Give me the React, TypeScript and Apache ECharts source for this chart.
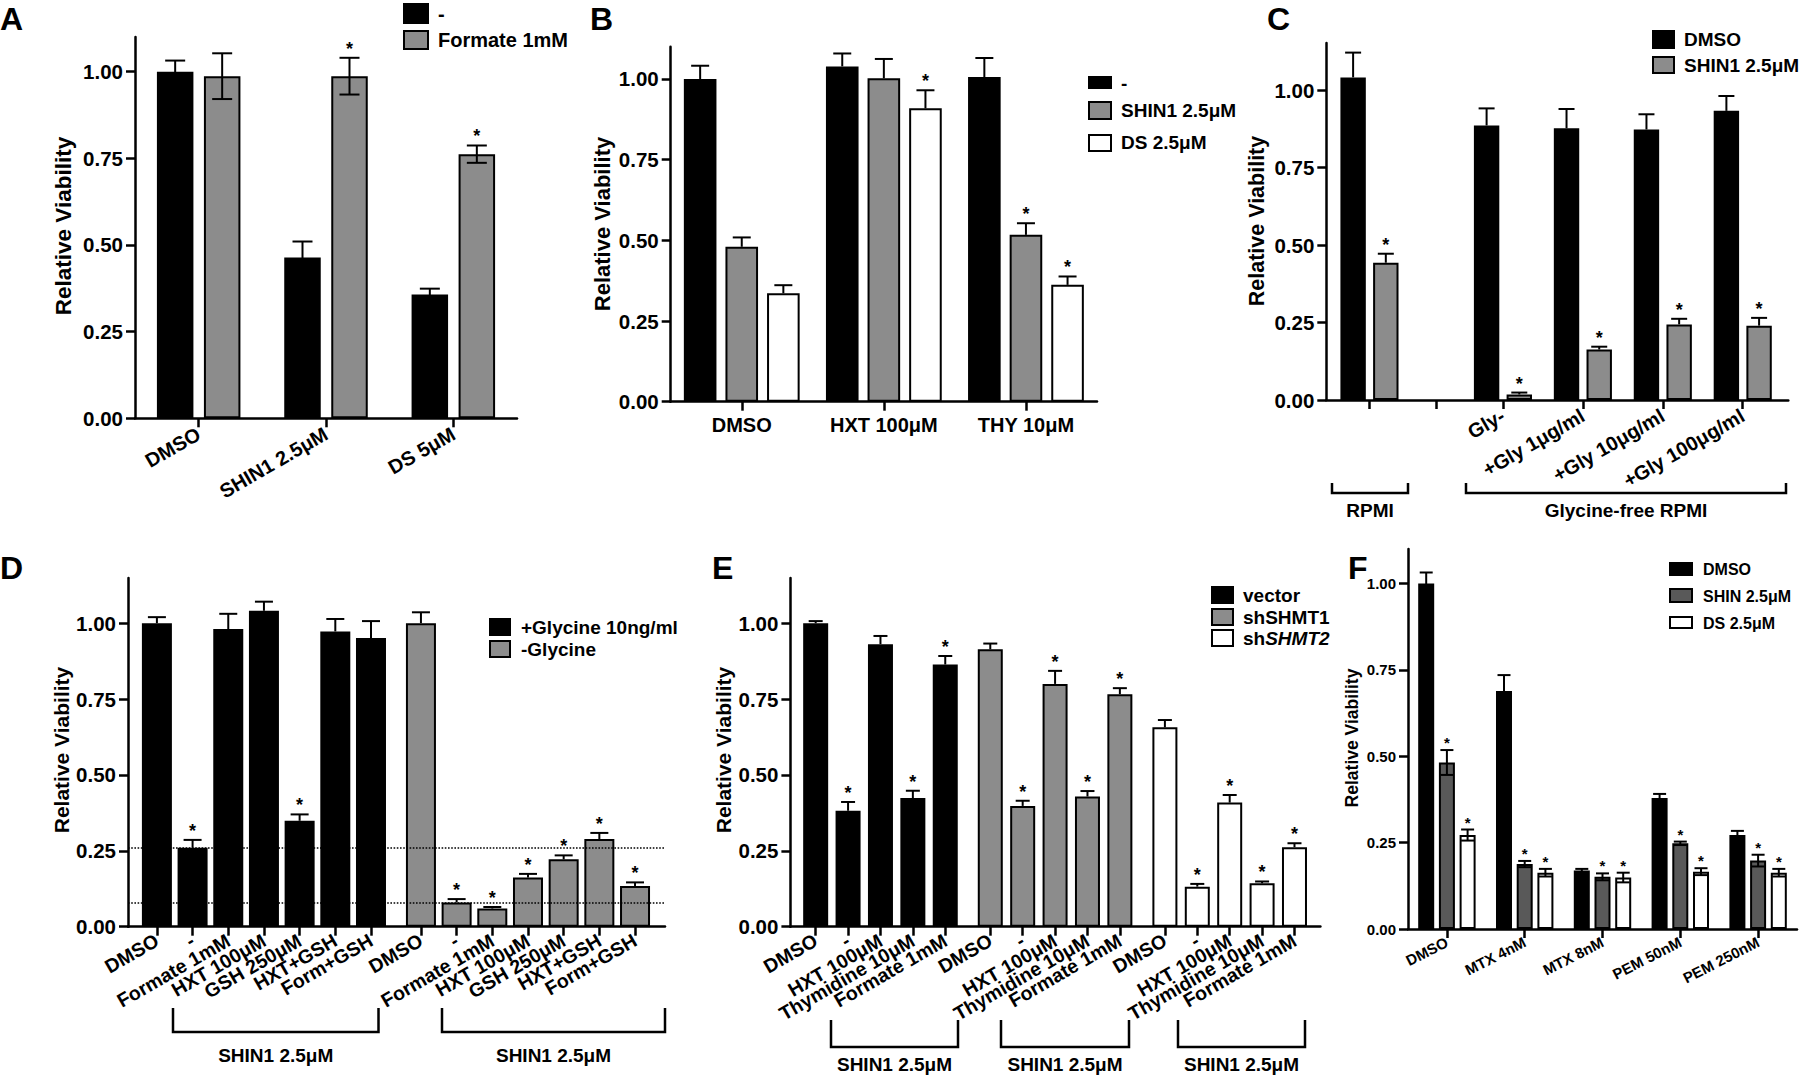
import React, { useEffect, useRef } from 'react';
import * as echarts from 'echarts';

const FONT = '"Liberation Sans", Arial, Helvetica, sans-serif';
const BLACK = '#000000';
const GRAY = '#8c8c8c';
const DARK_GRAY = '#595959';
const WHITE = '#ffffff';

// ---------------- DATA ----------------
const yTicks = [0, 0.25, 0.5, 0.75, 1.0];

// Panel A
const aCategories = ['DMSO', 'SHIN1 2.5μM', 'DS 5μM'];
const aControl = [1.0, 0.464, 0.357];
const aControlErr = [0.032, 0.046, 0.017];
const aFormate = [0.987, 0.987, 0.762];
const aFormateErr = [0.066, 0.053, 0.025];
const aFormateStar = [0, 1, 1];

// Panel B
const bCategories = ['DMSO', 'HXT 100μM', 'THY 10μM'];
const bControl = [1.0, 1.039, 1.006];
const bControlErr = [0.041, 0.04, 0.059];
const bShin = [0.48, 1.002, 0.517];
const bShinErr = [0.029, 0.06, 0.036];
const bShinStar = [0, 0, 1];
const bDs = [0.336, 0.909, 0.362];
const bDsErr = [0.025, 0.056, 0.026];
const bDsStar = [0, 1, 1];

// Panel C
const cTickLabels = ['', '', 'Gly-', '+Gly 1μg/ml', '+Gly 10μg/ml', '+Gly 100μg/ml'];
const cDmso = [1.041, null, 0.886, 0.877, 0.873, 0.933];
const cDmsoErr = [0.08, null, 0.055, 0.062, 0.049, 0.048];
const cShin = [0.443, null, 0.018, 0.163, 0.244, 0.24];
const cShinErr = [0.029, null, 0.006, 0.009, 0.018, 0.025];
const cShinStar = [1, 0, 1, 1, 1, 1];

// Panel D
const dCategories = ['DMSO', '-', 'Formate 1mM', 'HXT 100μM', 'GSH 250μM', 'HXT+GSH', 'Form+GSH',
  'DMSO', '-', 'Formate 1mM', 'HXT 100μM', 'GSH 250μM', 'HXT+GSH', 'Form+GSH'];
const dGlycine = [1.0, 0.26, 0.981, 1.041, 0.349, 0.973, 0.951];
const dGlycineErr = [0.02, 0.026, 0.05, 0.03, 0.021, 0.041, 0.056];
const dGlycineStar = [0, 1, 0, 0, 1, 0, 0];
const dNoGly = [1.0, 0.08, 0.06, 0.162, 0.222, 0.289, 0.134];
const dNoGlyErr = [0.036, 0.011, 0.005, 0.012, 0.013, 0.02, 0.012];
const dNoGlyStar = [0, 1, 1, 1, 1, 1, 1];
const dRefLines = [0.26, 0.08];

// Panel E
const eGroupCategories = ['DMSO', '-', 'HXT 100μM', 'Thymidine 10μM', 'Formate 1mM'];
const eVector = [1.0, 0.382, 0.931, 0.424, 0.864];
const eVectorErr = [0.007, 0.029, 0.027, 0.024, 0.028];
const eVectorStar = [0, 1, 0, 1, 1];
const eSh1 = [0.914, 0.398, 0.8, 0.429, 0.766];
const eSh1Err = [0.019, 0.017, 0.043, 0.018, 0.02];
const eSh1Star = [0, 1, 1, 1, 1];
const eSh2 = [0.657, 0.132, 0.409, 0.143, 0.262];
const eSh2Err = [0.024, 0.009, 0.025, 0.006, 0.013];
const eSh2Star = [0, 1, 1, 1, 1];

// Panel F
const fCategories = ['DMSO', 'MTX 4nM', 'MTX 8nM', 'PEM 50nM', 'PEM 250nM'];
const fDmso = [1.0, 0.689, 0.169, 0.379, 0.272];
const fDmsoErr = [0.032, 0.046, 0.005, 0.012, 0.012];
const fShin = [0.482, 0.188, 0.151, 0.248, 0.198];
const fShinErr = [0.036, 0.009, 0.01, 0.005, 0.017];
const fShinStar = [1, 1, 1, 1, 1];
const fDs = [0.272, 0.163, 0.149, 0.166, 0.163];
const fDsErr = [0.016, 0.011, 0.014, 0.01, 0.011];
const fDsStar = [1, 1, 1, 1, 1];

// ---------------- LAYOUT ----------------
const GRIDS = [
  { left: 135, top: 37, width: 382, height: 381.3 }, // A
  { left: 670.7, top: 46.7, width: 426.3, height: 355 }, // B
  { left: 1326.3, top: 43, width: 462, height: 357 }, // C
  { left: 128, top: 578, width: 537, height: 348.7 }, // D
  { left: 790.4, top: 578, width: 530, height: 348.7 }, // E
  { left: 1408, top: 549, width: 389, height: 380 }, // F
];
const Y_MAX = [1.1, 1.1, 1.152, 1.149, 1.149, 1.1];

const cPos = (i: number) => (i <= 2 ? i * 0.835 : 1.67 + (i - 2));
const dPos = (i: number) => i + Math.floor(i / 7) * 0.4;
const ePos = (i: number) => i + Math.floor(i / 5) * 0.39;

// ---------------- HELPERS ----------------
const axisLineStyle = { color: BLACK, width: 2.5 };

function yAxisDef(gridIndex: number, fontSize: number) {
  return {
    type: 'value', gridIndex, min: 0, max: Y_MAX[gridIndex],
    axisLine: { show: true, onZero: false, lineStyle: axisLineStyle },
    axisTick: { show: true, length: 9, customValues: yTicks, lineStyle: axisLineStyle },
    axisLabel: {
      customValues: yTicks, formatter: (v: number) => v.toFixed(2), margin: 12,
      color: BLACK, fontFamily: FONT, fontWeight: 'bold', fontSize,
    },
    splitLine: { show: false },
  };
}

function catXAxis(gridIndex: number, data: string[], fontSize: number, rotate: number, margin: number) {
  return {
    type: 'category', gridIndex, data,
    axisLine: { show: true, onZero: false, lineStyle: axisLineStyle },
    axisTick: { show: true, alignWithLabel: true, interval: 0, length: 9, lineStyle: axisLineStyle },
    axisLabel: { interval: 0, rotate, margin, color: BLACK, fontFamily: FONT, fontWeight: 'bold', fontSize },
    splitLine: { show: false },
  };
}

// value axis used as a category axis with uneven gaps between groups;
// empty labels at both ends keep ECharts' min/max overlap check from hiding real labels
function valXAxis(gridIndex: number, min: number, max: number, positions: number[], labels: string[],
  fontSize: number, rotate: number, margin: number) {
  return {
    type: 'value', gridIndex, min, max,
    axisLine: { show: true, onZero: false, lineStyle: axisLineStyle },
    axisTick: { show: true, length: 9, customValues: positions, lineStyle: axisLineStyle },
    axisLabel: {
      customValues: [min, ...positions, max],
      hideOverlap: false,
      formatter: (v: number) => {
        const i = positions.findIndex((p) => Math.abs(p - v) < 1e-6);
        return i >= 0 ? labels[i] : '';
      },
      rotate, margin, color: BLACK, fontFamily: FONT, fontWeight: 'bold', fontSize,
    },
    splitLine: { show: false },
  };
}

function barSeries(idx: number, data: any[], color: string, barWidth: number, barGap: string, extra: any = {}) {
  return {
    type: 'bar', xAxisIndex: idx, yAxisIndex: idx, data, barWidth, barGap, silent: true, z: 2,
    itemStyle: { color, borderColor: BLACK, borderWidth: 2 },
    emphasis: { disabled: true },
    ...extra,
  };
}

function errSeries(idx: number, data: any[], offsetPx: number, capHalf: number, both: boolean, starSize: number) {
  return {
    type: 'custom', xAxisIndex: idx, yAxisIndex: idx, z: 5, silent: true, clip: false,
    data,
    renderItem: (_params: any, api: any) => {
      const x = api.value(0);
      const v = api.value(1);
      const e = api.value(2);
      const s = api.value(3);
      const pTop = api.coord([x, v + e]);
      const pMid = api.coord([x, v]);
      const pBot = api.coord([x, v - e]);
      const cx = pMid[0] + offsetPx;
      const ls = { stroke: BLACK, lineWidth: 2 };
      const children: any[] = [
        { type: 'line', shape: { x1: cx, y1: pTop[1], x2: cx, y2: both ? pBot[1] : pMid[1] }, style: ls },
        { type: 'line', shape: { x1: cx - capHalf, y1: pTop[1], x2: cx + capHalf, y2: pTop[1] }, style: ls },
      ];
      if (both) {
        children.push({ type: 'line', shape: { x1: cx - capHalf, y1: pBot[1], x2: cx + capHalf, y2: pBot[1] }, style: ls });
      }
      if (s) {
        children.push({
          type: 'text',
          style: {
            text: '*', x: cx, y: pTop[1] - starSize * 0.5, align: 'center', verticalAlign: 'middle',
            fill: BLACK, fontSize: starSize, fontWeight: 'bold', fontFamily: FONT,
          },
        });
      }
      return { type: 'group', children };
    },
  };
}

const pct = (gap: number, w: number) => `${((gap / w) * 100).toFixed(1)}%`;

function catData(values: (number | null)[], errs: (number | null)[], stars?: number[], pos?: (i: number) => number) {
  const out: any[] = [];
  values.forEach((v, i) => {
    if (v == null) return;
    out.push([pos ? pos(i) : i, v, errs[i], stars ? stars[i] : 0]);
  });
  return out;
}

function barData(values: (number | null)[], pos: (i: number) => number, offset = 0) {
  const out: any[] = [];
  values.forEach((v, i) => {
    if (v == null) return;
    out.push([pos(i + offset), v]);
  });
  return out;
}

function txt(x: number, y: number, s: string, size: number, extra: any = {}) {
  return {
    type: 'text', x, y, silent: true,
    style: {
      text: s, fill: BLACK, fontSize: size, fontWeight: 'bold', fontFamily: FONT,
      align: 'left', verticalAlign: 'middle', ...extra,
    },
  };
}
function vtxt(x: number, y: number, s: string, size: number) {
  return {
    type: 'text', x, y, rotation: Math.PI / 2, silent: true,
    style: { text: s, fill: BLACK, fontSize: size, fontWeight: 'bold', fontFamily: FONT, align: 'center', verticalAlign: 'middle' },
  };
}
function box(x: number, y: number, w: number, h: number, fill: string) {
  return { type: 'rect', silent: true, shape: { x, y, width: w, height: h }, style: { fill, stroke: BLACK, lineWidth: 2 } };
}
function bracket(x1: number, x2: number, yTop: number, yBot: number) {
  return {
    type: 'polyline', silent: true,
    shape: { points: [[x1, yTop], [x1, yBot], [x2, yBot], [x2, yTop]] },
    style: { stroke: BLACK, lineWidth: 2.5, fill: null },
  };
}

function buildOption() {
  const aW = 36.5, aG = 10.5, aStep = aW + aG;
  const bW = 32.6, bG = 9, bStep = bW + bG;
  const cW = 25.4, cG = 7.3, cStep = cW + cG;
  const dW = 30;
  const eW = 25;
  const fW = 16, fG = 4.7, fStep = fW + fG;

  const cPositions = cTickLabels.map((_, i) => cPos(i));
  const dPositions = dCategories.map((_, i) => dPos(i));
  const eCategories = [...eGroupCategories, ...eGroupCategories, ...eGroupCategories];
  const ePositions = eCategories.map((_, i) => ePos(i));

  const series: any[] = [
    // A
    barSeries(0, aControl, BLACK, aW, pct(aG, aW)),
    barSeries(0, aFormate, GRAY, aW, pct(aG, aW)),
    errSeries(0, catData(aControl, aControlErr), -aStep / 2, 10, true, 18),
    errSeries(0, catData(aFormate, aFormateErr, aFormateStar), aStep / 2, 10, true, 18),
    // B
    barSeries(1, bControl, BLACK, bW, pct(bG, bW)),
    barSeries(1, bShin, GRAY, bW, pct(bG, bW)),
    barSeries(1, bDs, WHITE, bW, pct(bG, bW)),
    errSeries(1, catData(bControl, bControlErr), -bStep, 9, false, 18),
    errSeries(1, catData(bShin, bShinErr, bShinStar), 0, 9, false, 18),
    errSeries(1, catData(bDs, bDsErr, bDsStar), bStep, 9, false, 18),
    // C
    barSeries(2, barData(cDmso, cPos), BLACK, cW, pct(cG, cW)),
    barSeries(2, barData(cShin, cPos), GRAY, cW, pct(cG, cW)),
    errSeries(2, catData(cDmso, cDmsoErr, undefined, cPos), -cStep / 2, 8, false, 18),
    errSeries(2, catData(cShin, cShinErr, cShinStar, cPos), cStep / 2, 8, false, 18),
    // D
    barSeries(3, barData(dGlycine, dPos, 0), BLACK, dW, '-100%', {
      markLine: {
        silent: true, symbol: 'none', label: { show: false },
        lineStyle: { type: 'dotted', color: BLACK, width: 1.6 },
        data: dRefLines.map((y) => ({ yAxis: y })),
      },
    }),
    barSeries(3, barData(dNoGly, dPos, 7), GRAY, dW, '-100%'),
    errSeries(3, catData(dGlycine, dGlycineErr, dGlycineStar, (i) => dPos(i)), 0, 9, false, 18),
    errSeries(3, catData(dNoGly, dNoGlyErr, dNoGlyStar, (i) => dPos(i + 7)), 0, 9, false, 18),
    // E
    barSeries(4, barData(eVector, ePos, 0), BLACK, eW, '-100%'),
    barSeries(4, barData(eSh1, ePos, 5), GRAY, eW, '-100%'),
    barSeries(4, barData(eSh2, ePos, 10), WHITE, eW, '-100%'),
    errSeries(4, catData(eVector, eVectorErr, eVectorStar, (i) => ePos(i)), 0, 7, false, 18),
    errSeries(4, catData(eSh1, eSh1Err, eSh1Star, (i) => ePos(i + 5)), 0, 7, false, 18),
    errSeries(4, catData(eSh2, eSh2Err, eSh2Star, (i) => ePos(i + 10)), 0, 7, false, 18),
    // F
    barSeries(5, fDmso, BLACK, fW, pct(fG, fW)),
    barSeries(5, fShin, DARK_GRAY, fW, pct(fG, fW)),
    barSeries(5, fDs, WHITE, fW, pct(fG, fW)),
    errSeries(5, catData(fDmso, fDmsoErr), -fStep, 6.5, true, 15),
    errSeries(5, catData(fShin, fShinErr, fShinStar), 0, 6.5, true, 15),
    errSeries(5, catData(fDs, fDsErr, fDsStar), fStep, 6.5, true, 15),
  ];

  const graphicEls: any[] = [
    // panel letters
    txt(0, 19, 'A', 32, { fontWeight: 900 }),
    txt(590, 19, 'B', 32, { fontWeight: 900 }),
    txt(1267, 19, 'C', 32, { fontWeight: 900 }),
    txt(0, 568, 'D', 32, { fontWeight: 900 }),
    txt(712, 568, 'E', 32, { fontWeight: 900 }),
    txt(1348, 568, 'F', 32, { fontWeight: 900 }),
    // y titles
    vtxt(63, 226, 'Relative Viability', 22.5),
    vtxt(602, 224, 'Relative Viability', 22),
    vtxt(1257, 221, 'Relative Viability', 21.5),
    vtxt(61, 750, 'Relative Viability', 21),
    vtxt(723, 750, 'Relative Viability', 21),
    vtxt(1352, 738, 'Relative Viability', 17.5),
    // legend A
    box(404, 4, 24, 19, BLACK), txt(438, 13.5, '-', 20),
    box(404, 31, 24, 18, GRAY), txt(438, 40, 'Formate 1mM', 20),
    // legend B
    box(1089, 77, 22, 11, BLACK), txt(1121, 83, '-', 19),
    box(1089, 102, 22, 17, GRAY), txt(1121, 110, 'SHIN1 2.5μM', 19),
    box(1089, 135, 22, 16, WHITE), txt(1121, 142.5, 'DS 2.5μM', 19),
    // legend C
    box(1653, 31, 21, 17, BLACK), txt(1684, 39.5, 'DMSO', 19),
    box(1653, 57, 21, 16, GRAY), txt(1684, 65, 'SHIN1 2.5μM', 19),
    // legend D
    box(490, 619, 20, 16, BLACK), txt(521, 627, '+Glycine 10ng/ml', 19),
    box(490, 641, 20, 16, GRAY), txt(521, 649, '-Glycine', 19),
    // legend E
    box(1212, 587, 21, 16, BLACK), txt(1243, 595, 'vector', 19),
    box(1212, 609, 21, 16, GRAY), txt(1243, 617, 'shSHMT1', 19),
    box(1212, 630, 21, 16, WHITE),
    txt(1243, 638, 'sh{i|SHMT2}', 19, {
      rich: { i: { fontStyle: 'italic', fontWeight: 'bold', fontSize: 19, fontFamily: FONT, fill: BLACK } },
    }),
    // legend F
    box(1670, 563, 22, 12, BLACK), txt(1703, 569, 'DMSO', 16),
    box(1670, 589, 22, 13, DARK_GRAY), txt(1703, 596, 'SHIN 2.5μM', 16),
    box(1670, 617, 22, 11, WHITE), txt(1703, 623, 'DS 2.5μM', 16),
    // brackets C
    bracket(1332, 1408, 483, 493), txt(1370, 510, 'RPMI', 19, { align: 'center' }),
    bracket(1466, 1786, 483, 493), txt(1626, 510, 'Glycine-free RPMI', 19, { align: 'center' }),
    // brackets D
    bracket(173, 378.5, 1008, 1032), txt(275.7, 1055, 'SHIN1 2.5μM', 19, { align: 'center' }),
    bracket(442, 665, 1008, 1032), txt(553.5, 1055, 'SHIN1 2.5μM', 19, { align: 'center' }),
    // brackets E
    bracket(831, 958, 1020, 1047), txt(894.5, 1064, 'SHIN1 2.5μM', 19, { align: 'center' }),
    bracket(1001, 1129, 1020, 1047), txt(1065, 1064, 'SHIN1 2.5μM', 19, { align: 'center' }),
    bracket(1178, 1305, 1020, 1047), txt(1241.5, 1064, 'SHIN1 2.5μM', 19, { align: 'center' }),
  ];

  return {
    animation: false,
    backgroundColor: '#ffffff',
    grid: GRIDS.map((g) => ({ ...g, containLabel: false })),
    xAxis: [
      catXAxis(0, aCategories, 20, 30, 14),
      catXAxis(1, bCategories, 20, 0, 13),
      valXAxis(2, -0.54, 5.24, cPositions, cTickLabels, 20, 30, 14),
      valXAxis(3, -0.81, 14.24, dPositions, dCategories, 19.5, 30, 12),
      valXAxis(4, -0.78, 15.58, ePositions, eCategories, 19.5, 30, 12),
      catXAxis(5, fCategories, 15, 27, 12),
    ],
    yAxis: [
      yAxisDef(0, 20.5), yAxisDef(1, 20.5), yAxisDef(2, 20.5), yAxisDef(3, 20.5), yAxisDef(4, 20.5), yAxisDef(5, 15),
    ],
    series,
    graphic: { elements: graphicEls },
  };
}

export default function App() {
  const ref = useRef<HTMLDivElement>(null);
  useEffect(() => {
    if (!ref.current) return;
    const chart = echarts.init(ref.current, null, { renderer: 'svg', width: 1800, height: 1083 });
    chart.setOption(buildOption() as any);
    return () => chart.dispose();
  }, []);
  return (
    <div
      ref={ref}
      style={{ position: 'absolute', left: 0, top: 0, width: 1800, height: 1083, background: '#ffffff' }}
    />
  );
}
